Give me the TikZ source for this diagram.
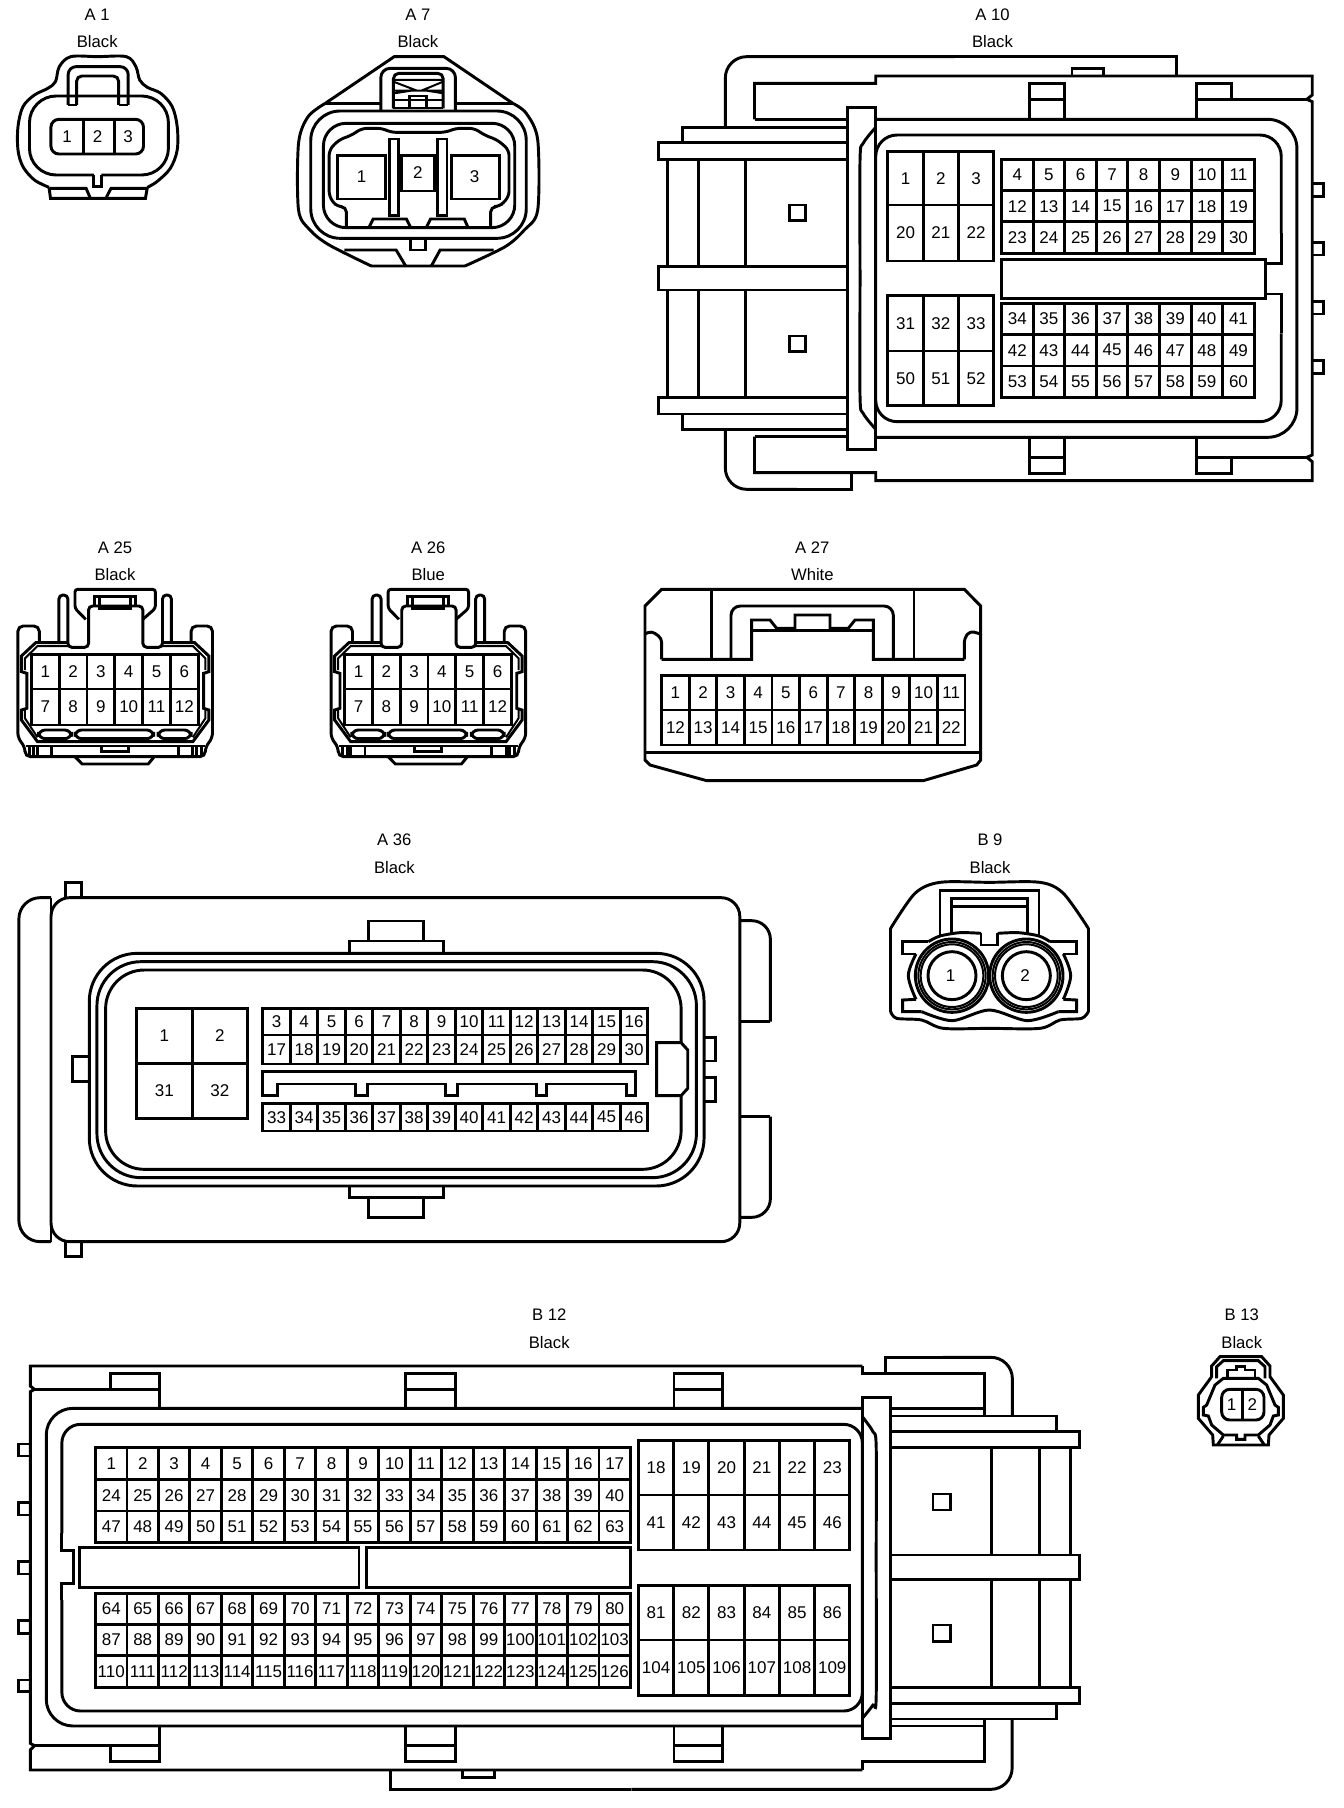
\documentclass[tikz,border=0pt]{standalone}
\usepackage{fontspec}
\setmainfont{Liberation Sans}
\tikzset{
  ln/.style={line width=2.2pt,line join=miter,line cap=butt},
  thinln/.style={line width=1.5pt},
  zoomed/.style n args={4}{shift={(#1,#2)},xscale=1/#3,yscale=1/#4},
  pinlabel/.style={inner sep=0pt,font=\fontsize{12.75}{15}\selectfont},
  title/.style={inner sep=0pt,font=\fontsize{12.5}{15}\selectfont}
}
\newcommand\pinrow[6]{%
  \draw[ln] (#1,#3) rectangle (#2,#4);
  \pgfmathsetmacro\cellw{(#2-#1)/#5}
  \foreach \k in {1,...,#5}{%
    \pgfmathsetmacro\pxa{#1+(\k-1)*\cellw}
    \pgfmathsetmacro\pxm{#1+(\k-.5)*\cellw}
    \pgfmathsetmacro\pym{(#3+#4)/2}
    \pgfmathtruncatemacro\pnum{#6+\k-1}
    \ifnum\k>1 \draw[ln] (\pxa,#3) -- (\pxa,#4);\fi
    \node[pinlabel] (\cn-\pnum) at (\pxm,\pym) {\pnum};
  }%
}
\newcommand\twelvepin[4]{%
\def\cn{#2}
\begin{scope}[zoomed={#1}{530}{2.8}{3},ln]
  \node[title] (\cn-t) at (322,52) {#3};
  \node[title] (\cn-c) at (322,135) {#4};
  \draw[rounded corners=4pt] (110,340) -- (110,288) -- (50,288) -- (50,625) -- (70,650) -- (70,680) -- (575,680) -- (575,650) -- (595,625) -- (595,288) -- (535,288) -- (535,340);
  \draw (190,338) -- (100,338) -- (60,378) -- (60,425) -- (75,430) -- (75,535) -- (60,540) -- (60,570) -- (105,635) -- (540,635) -- (585,570) -- (585,540) -- (570,535) -- (570,430) -- (585,425) -- (585,378) -- (545,338) -- (455,338);
  \draw[thinln] (190,348) -- (105,348) -- (70,385) -- (70,420);
  \draw[thinln] (455,348) -- (540,348) -- (575,385) -- (575,420);
  \draw[thinln] (70,540) -- (70,565) -- (105,622);
  \draw[thinln] (575,540) -- (575,565) -- (540,622);
  \draw[rounded corners=3pt] (165,340) -- (165,195) -- (190,195) -- (190,352) -- (248,352) -- (248,228) -- (400,228) -- (400,352) -- (455,352) -- (455,195) -- (480,195) -- (480,340);
  \draw[rounded corners=2pt] (240,268) -- (210,235) -- (210,178) -- (435,178) -- (435,235) -- (400,268);
  \draw (265,228) -- (265,200) -- (380,200) -- (380,228);
  \draw (278,205) -- (278,235) -- (365,235) -- (365,205);
  \pinrow{88}{555}{373}{477}{6}{1}
  \pinrow{88}{555}{477}{585}{6}{7}
  \draw[rounded corners=5pt] (108,600) rectangle (200,626);
  \draw[rounded corners=5pt] (210,600) rectangle (430,626);
  \draw[rounded corners=5pt] (443,600) rectangle (535,626);
  \draw (72,648) -- (573,648);
  \draw (82,650) -- (82,680) (95,650) -- (95,680) (105,652) -- (105,680) (145,652) -- (145,680);
  \draw (563,650) -- (563,680) (550,650) -- (550,680) (540,652) -- (540,680) (500,652) -- (500,680);
  \draw (283,650) -- (283,665) -- (360,665) -- (360,650);
  \draw (210,680) -- (230,702) -- (415,702) -- (432,680);
\end{scope}}
\begin{document}
\begin{tikzpicture}[x=.75pt,y=-.75pt]
\useasboundingbox (0,0) rectangle (1344,1808);
\fill[white] (0,0) rectangle (1344,1808);

% ---------- A1 and A7
\begin{scope}[zoomed={0}{0}{2.613}{3},ln]
  \def\cn{A1}
  \node[title] (A1-t) at (254,44) {A 1};
  \node[title] (A1-c) at (254,125) {Black};
  \draw plot[smooth,tension=.55] coordinates {(128,562) (90,540) (60,500) (47,450) (47,380) (60,320) (90,285) (125,265) (145,245) (155,200) (185,170) (255,170) (330,170) (355,200) (365,240) (385,262) (420,280) (450,320) (463,380) (463,450) (445,505) (410,545) (385,562)};
  \draw (128,562) -- (132,595) -- (380,595) -- (385,562);
  \draw[rounded corners=20pt] (245,525) -- (77,525) -- (77,288) -- (440,288) -- (440,525) -- (265,525);
  \draw (245,525) -- (245,560) -- (265,560) -- (265,525);
  \draw (130,565) -- (225,565) -- (235,592) (385,565) -- (290,565) -- (278,592);
  \draw[rounded corners=6pt] (178,315) -- (178,200) -- (335,200) -- (335,315);
  \draw (178,315) -- (200,315) (335,315) -- (310,315);
  \draw[rounded corners=4pt] (200,315) -- (200,228) -- (310,228) -- (310,315);
  \draw[rounded corners=6pt] (133,358) rectangle (375,462);
  \draw (217,358) -- (217,462) (298,358) -- (298,462);
  \node[pinlabel] (A1-1) at (175,410) {1};
  \node[pinlabel] (A1-2) at (255,410) {2};
  \node[pinlabel] (A1-3) at (335,410) {3};

  \node[title] (A7-t) at (1092,44) {A 7};
  \node[title] (A7-c) at (1092,125) {Black};
  \draw plot[smooth,tension=.5] coordinates {(1340,310) (1375,340) (1405,420) (1405,630) (1370,690) (1320,740) (1215,798)};
  \draw plot[smooth,tension=.5] coordinates {(850,310) (805,350) (780,430) (780,630) (810,690) (860,735) (970,798)};
  \draw (850,310) -- (1030,170) -- (1160,170) -- (1340,310) (970,798) -- (1215,798);
  \draw (850,310) -- (995,310) (1190,310) -- (1340,310);
  \draw[rounded corners=7pt] (995,330) -- (995,205) -- (1190,205) -- (1190,330);
  \draw[rounded corners=4pt] (1028,325) -- (1028,220) -- (1158,220) -- (1158,325);
  \draw[thinln] (1028,240) -- (1158,240) (1028,245) -- (1085,270) -- (1030,280) (1158,245) -- (1105,270) -- (1158,280) (1030,272) -- (1158,272);
  \draw (1030,300) -- (1158,300) (1070,325) -- (1070,288) -- (1115,288) -- (1115,325) (1028,324) -- (1158,324);
  \draw[rounded corners=22pt] (812,333) rectangle (1375,715);
  \draw[rounded corners=17pt] (845,370) rectangle (1345,683);
  \draw[rounded corners=4pt] (905,683) -- (905,620) -- (880,620) -- (860,590) -- (860,450) -- (885,420) -- (920,405) -- (945,385) -- (1000,385) -- (1020,397) -- (1165,397) -- (1190,385) -- (1240,385) -- (1265,405) -- (1300,420) -- (1330,450) -- (1330,590) -- (1305,620) -- (1282,620) -- (1282,683);
  \draw (882,467) rectangle (1008,597);
  \draw (1050,467) rectangle (1135,573);
  \draw (1180,467) rectangle (1305,597);
  \draw (1017,417) rectangle (1042,647);
  \draw (1142,417) rectangle (1168,647);
  \draw (965,680) -- (975,657) -- (1062,657) -- (1072,680);
  \draw (1115,680) -- (1125,657) -- (1213,657) -- (1222,680);
  \draw (1072,715) -- (1072,750) -- (1112,750) -- (1112,715);
  \draw (900,750) -- (1035,750) -- (1060,798) (1290,750) -- (1150,750) -- (1127,798);
  \node[pinlabel] (A7-1) at (945,530) {1};
  \node[pinlabel] (A7-2) at (1092,518) {2};
  \node[pinlabel] (A7-3) at (1240,530) {3};
\end{scope}

% ---------- A10
\begin{scope}[zoomed={640}{0}{2.227}{3},ln]
  \def\cn{A10}
  \node[title] (A10-t) at (785,44) {A 10};
  \node[title] (A10-c) at (785,125) {Black};
  \draw[rounded corners=16pt] (190,380) -- (190,170) -- (700,170);
  \draw (700,170) -- (1195,170) -- (1195,228);
  \draw (255,358) -- (255,250) -- (525,250) -- (525,228) -- (1497,228) -- (1497,285) -- (1485,298) -- (1497,305) -- (1497,1365) -- (1485,1372) -- (1497,1385) -- (1497,1442) -- (525,1442) -- (525,1418) -- (255,1418) -- (255,1310);
  \draw[rounded corners=16pt] (190,1292) -- (190,1468) -- (350,1468);
  \draw (350,1468) -- (472,1468) -- (472,1418);
  \draw (1240,298) -- (1485,298) (1240,1372) -- (1485,1372);
  \draw (868,355) -- (868,250) -- (945,250) -- (945,355) (868,298) -- (945,298);
  \draw (1240,355) -- (1240,250) -- (1318,250) -- (1318,298);
  \draw (868,1312) -- (868,1420) -- (945,1420) -- (945,1312) (868,1372) -- (945,1372);
  \draw (1240,1312) -- (1240,1420) -- (1318,1420) -- (1318,1372);
  \draw (962,228) -- (962,205) -- (1033,205) -- (1033,228);
  \draw (462,322) rectangle (525,1348);
  \draw[rounded corners=22pt] (525,358) -- (1463,358) -- (1463,1312) -- (525,1312);
  \draw plot[smooth,tension=.5] coordinates {(525,382) (497,430) (490,480) (490,835) (490,1190) (497,1240) (525,1288)};
  \draw (1395,790) -- (1428,790) -- (1428,700);
  \draw[rounded corners=16pt] (1428,700) -- (1428,405) -- (525,405) -- (525,1265) -- (1428,1265) -- (1428,1000);
  \draw (1428,1000) -- (1428,882) -- (1395,882);
  \draw (805,778) rectangle (1393,895);
  \pinrow{552}{788}{455}{615}{3}{1}
  \pinrow{552}{788}{615}{783}{3}{20}
  \pinrow{552}{788}{887}{1053}{3}{31}
  \pinrow{552}{788}{1053}{1217}{3}{50}
  \pinrow{805}{1368}{478}{572}{8}{4}
  \pinrow{805}{1368}{572}{665}{8}{12}
  \pinrow{805}{1368}{665}{760}{8}{23}
  \pinrow{805}{1368}{910}{1003}{8}{34}
  \pinrow{805}{1368}{1003}{1098}{8}{42}
  \pinrow{805}{1368}{1098}{1193}{8}{53}
  \foreach \a/\b in {550/590,728/765,905/942,1082/1120}
    \draw (1497,\a) -- (1522,\a) -- (1522,\b) -- (1497,\b);
  \draw (462,382) -- (95,382) -- (95,428);
  \draw (462,428) -- (42,428) -- (42,478) -- (462,478);
  \draw (62,478) -- (62,800) (130,478) -- (130,800) (235,478) -- (235,800);
  \draw (462,800) -- (42,800) -- (42,870) -- (462,870);
  \draw (62,870) -- (62,1193) (130,870) -- (130,1193) (235,870) -- (235,1193);
  \draw (462,1193) -- (42,1193) -- (42,1242) -- (462,1242);
  \draw (95,1242) -- (95,1288) -- (462,1288);
  \draw (255,358) -- (462,358) (255,1310) -- (462,1310);
  \draw (332,615) rectangle (368,662);
  \draw (332,1008) rectangle (368,1055);
\end{scope}

% ---------- A25, A26
\twelvepin{0}{A25}{A 25}{Black}
\twelvepin{313.2}{A26}{A 26}{Blue}

% ---------- A27
\begin{scope}[zoomed={630}{530}{3}{3},ln]
  \def\cn{A27}
  \node[title] (A27-t) at (547,52) {A 27};
  \node[title] (A27-c) at (547,135) {White};
  \draw (45,228) -- (95,178) -- (1003,178) -- (1052,228) -- (1052,690) -- (1040,705) -- (880,752) -- (230,752) -- (60,705) -- (45,690) -- cycle;
  \draw (45,668) -- (1052,668);
  \draw[rounded corners=3pt] (45,312) -- (65,303) -- (95,325) -- (95,388);
  \draw[rounded corners=3pt] (1052,312) -- (1020,303) -- (1003,325) -- (1003,388);
  \draw (95,388) -- (365,388) -- (365,270) -- (420,270) -- (440,295) -- (495,295) -- (495,255) -- (600,255) -- (600,295) -- (655,295) -- (675,270) -- (730,270) -- (730,388) -- (1003,388);
  \draw (365,302) -- (730,302);
  \draw (245,178) -- (245,388);
  \draw (852,178) -- (852,388);
  \draw[rounded corners=7pt] (303,388) -- (303,228) -- (790,228) -- (790,388);
  \pinrow{95}{1005}{437}{540}{11}{1}
  \pinrow{95}{1005}{540}{645}{11}{12}
\end{scope}

% ---------- A36
\begin{scope}[zoomed={0}{830}{1.96}{3},ln]
  \def\cn{A36}
  \node[title] (A36-t) at (773,30) {A 36};
  \node[title] (A36-c) at (773,112) {Black};
  \draw[rounded corners=16pt] (100,203) -- (37,203) -- (37,1235) -- (100,1235);
  \draw (100,203) -- (100,1235);
  \draw[rounded corners=14pt] (100,203) rectangle (1450,1235);
  \draw (128,203) -- (128,158) -- (160,158) -- (160,203);
  \draw (128,1235) -- (128,1280) -- (160,1280) -- (160,1235);
  \draw (173,680) -- (143,680) -- (143,755) -- (173,755);
  \draw (685,368) -- (685,333) -- (870,333) -- (870,368) (723,333) -- (723,273) -- (830,273) -- (830,333);
  \draw (685,1068) -- (685,1103) -- (870,1103) -- (870,1068) (723,1103) -- (723,1163) -- (830,1163) -- (830,1103);
  \draw[rounded corners=14pt] (1450,272) -- (1510,272) -- (1510,575);
  \draw (1510,575) -- (1450,575);
  \draw[rounded corners=14pt] (1510,860) -- (1510,1162) -- (1450,1162);
  \draw (1450,860) -- (1510,860);
  \draw[rounded corners=36pt] (175,370) rectangle (1380,1068);
  \draw[rounded corners=33pt] (190,395) rectangle (1365,1043);
  \draw[rounded corners=29pt] (207,420) rectangle (1335,1018);
  \pinrow{268}{485}{535}{700}{2}{1}
  \pinrow{268}{485}{700}{865}{2}{31}
  \pinrow{515}{1270}{535}{615}{14}{3}
  \pinrow{515}{1270}{615}{702}{14}{17}
  \pinrow{515}{1270}{820}{903}{14}{33}
  \draw (515,797) -- (515,725) -- (1245,725) -- (1245,797) -- (1228,797) -- (1228,762) -- (1072,762) -- (1072,797) -- (1052,797) -- (1052,762) -- (897,762) -- (897,797) -- (873,797) -- (873,762) -- (720,762) -- (720,797) -- (697,797) -- (697,762) -- (543,762) -- (543,797) -- cycle;
  \draw[fill=white] (1335,638) -- (1287,638) -- (1287,797) -- (1335,797) -- (1348,775) -- (1348,660) -- cycle;
  \draw (1380,622) -- (1403,622) -- (1403,693) -- (1380,693);
  \draw (1380,742) -- (1403,742) -- (1403,815) -- (1380,815);
\end{scope}

% ---------- B9
\begin{scope}[zoomed={880}{830}{3}{3},ln]
  \def\cn{B9}
  \node[title] (B9-t) at (330,30) {B 9};
  \node[title] (B9-c) at (330,112) {Black};
  \draw plot[smooth,tension=.5] coordinates {(32,295) (105,190) (180,157) (328,157) (480,157) (550,190) (625,295)};
  \draw (32,295) -- (32,545) (625,295) -- (625,545);
  \draw plot[smooth,tension=.5] coordinates {(32,545) (50,565) (125,570) (190,595) (328,595) (480,595) (540,570) (605,565) (625,545)};
  \draw (180,318) -- (180,182) -- (477,182) -- (477,318);
  \draw (215,310) -- (215,205) -- (442,205) -- (442,310) (215,230) -- (442,230);
  \draw plot[smooth,tension=.5] coordinates {(145,335) (180,318) (240,308) (303,310)};
  \draw plot[smooth,tension=.5] coordinates {(510,335) (477,318) (415,308) (353,310)};
  \draw (303,310) -- (303,345) -- (353,345) -- (353,310);
  \draw (145,335) -- (68,335) -- (68,372) -- (108,372);
  \draw (510,335) -- (590,335) -- (590,372) -- (550,372);
  \draw plot[smooth,tension=.6] coordinates {(108,372) (85,437) (108,508)};
  \draw plot[smooth,tension=.6] coordinates {(550,372) (572,437) (550,508)};
  \draw (108,508) -- (68,510) -- (68,545) -- (125,545);
  \draw (550,508) -- (590,510) -- (590,545) -- (535,545);
  \draw plot[smooth,tension=.5] coordinates {(125,545) (217,572) (328,540) (442,572) (535,545)};
  \foreach \cx/\n in {216/1,439/2}{
    \fill[white] (\cx,437) circle[radius=112];
    \draw (\cx,437) circle[radius=110];
    \draw[thinln] (\cx,437) circle[radius=101];
    \draw[thinln] (\cx,437) circle[radius=94];
    \draw (\cx,437) circle[radius=72];
    \node[pinlabel] (B9-\n) at (\cx-4,437) {\n};
  }
\end{scope}

% ---------- B12 left part
\begin{scope}[zoomed={0}{1300}{2.376}{3},ln]
  \def\cn{B12}
  \node[title] (B12-t) at (1305,45) {B 12};
  \node[title] (B12-c) at (1305,128) {Black};
  \draw (2049,198) -- (72,198) -- (72,258) -- (82,268) -- (72,275) -- (72,1330) -- (82,1337) -- (72,1350) -- (72,1410) -- (2049,1410);
  \draw[rounded corners=20pt] (2049,325) -- (110,325) -- (110,1278) -- (2049,1278);
  \draw[rounded corners=14pt] (2049,800) -- (2049,373) -- (147,373) -- (147,700);
  \draw (147,700) -- (147,752) -- (175,752) -- (175,850) -- (147,850) -- (147,900);
  \draw[rounded corners=14pt] (147,900) -- (147,1233) -- (2049,1233) -- (2049,800);
  \draw (927,1410) -- (927,1468) -- (1500,1468);
  \draw[rounded corners=16pt] (1500,1468) -- (2405,1468) -- (2405,1260);
  \draw (1100,1410) -- (1100,1433) -- (1175,1433) -- (1175,1410);
  \draw (262,268) -- (262,220) -- (380,220) -- (380,325) (82,268) -- (380,268);
  \draw (963,325) -- (963,220) -- (1083,220) -- (1083,325) (963,268) -- (1083,268);
  \draw (380,1278) -- (380,1385) -- (262,1385) -- (262,1337) (82,1337) -- (380,1337);
  \draw (963,1278) -- (963,1385) -- (1083,1385) -- (1083,1278) (963,1337) -- (1083,1337);
  \foreach \a/\b in {432/468,608/645,785/822,962/1000,1140/1175}
    \draw (72,\a) -- (45,\a) -- (45,\b) -- (72,\b);
  \pinrow{227}{1498}{443}{538}{17}{1}
  \pinrow{227}{1498}{538}{633}{17}{24}
  \pinrow{227}{1498}{633}{727}{17}{47}
  \pinrow{227}{1498}{880}{973}{17}{64}
  \pinrow{227}{1498}{973}{1067}{17}{87}
  \pinrow{227}{1498}{1067}{1162}{17}{110}
  \draw (188,742) rectangle (853,862);
  \draw (870,742) rectangle (1498,862);
\end{scope}

% ---------- B12 right part
\begin{scope}[zoomed={620}{1300}{2.166}{3},ln]
  \def\cn{B12}
  \draw (525,198) -- (525,220) -- (790,220) -- (790,345);
  \draw (525,1410) -- (525,1385) -- (790,1385) -- (790,1260);
  \draw (575,220) -- (575,172) -- (700,172);
  \draw[rounded corners=16pt] (700,172) -- (850,172) -- (850,350);
  \draw (117,325) -- (117,220) -- (222,220) -- (222,325) (117,268) -- (222,268);
  \draw (117,1278) -- (117,1385) -- (222,1385) -- (222,1278) (117,1337) -- (222,1337);
  \draw[fill=white] (525,292) rectangle (585,1315);
  \draw plot[smooth,tension=.5] coordinates {(525,350) (548,395) (555,440) (555,770) (555,1190) (548,1215) (525,1255)};
  \pinrow{40}{498}{422}{585}{6}{18}
  \pinrow{40}{498}{585}{750}{6}{41}
  \pinrow{40}{498}{857}{1020}{6}{81}
  \pinrow{40}{498}{1020}{1187}{6}{104}
  \draw (585,325) -- (790,325) (585,1278) -- (790,1278);
  \draw (585,348) -- (945,348) -- (945,395);
  \draw (585,395) -- (995,395) -- (995,442) -- (585,442);
  \draw (975,442) -- (975,765) (805,442) -- (805,765) (908,442) -- (908,765);
  \draw (585,765) -- (995,765) -- (995,838) -- (585,838);
  \draw (975,838) -- (975,1162) (805,838) -- (805,1162) (908,838) -- (908,1162);
  \draw (585,1162) -- (995,1162) -- (995,1210) -- (585,1210);
  \draw (945,1210) -- (945,1257) -- (585,1257);
  \draw (678,582) rectangle (715,630);
  \draw (678,975) rectangle (715,1025);
  \node[title] (B13-t) at (1347,45) {B 13};
  \node[title] (B13-c) at (1347,128) {Black};
\end{scope}

% ---------- B13
\begin{scope}[zoomed={1190}{1350}{3}{3},ln]
  \def\cn{B13}
  \draw (70,285) -- (68,255) -- (25,205) -- (25,135) -- (65,80) -- (65,48) -- (90,20) -- (215,20) -- (240,48) -- (240,80) -- (280,135) -- (280,205) -- (237,255) -- (235,285) -- cycle;
  \draw (80,85) -- (80,50) -- (100,32) -- (205,32) -- (225,50) -- (225,85);
  \draw (112,85) -- (112,60) -- (140,60) -- (140,50) -- (165,50) -- (165,60) -- (195,60) -- (195,85) -- cycle;
  \draw (50,165) -- (75,105) -- (100,85) -- (205,85) -- (230,105) -- (255,165) -- (265,172) -- (265,195) -- (250,198) -- (240,225) -- (205,255) -- (165,255) -- (165,268) -- (140,268) -- (140,255) -- (100,255) -- (65,225) -- (55,198) -- (40,195) -- (40,172) -- cycle;
  \draw[rounded corners=6pt] (95,118) rectangle (222,210);
  \draw (157,118) -- (157,210);
  \draw (100,258) -- (82,285) (205,258) -- (223,285);
  \node[pinlabel] (B13-1) at (125,163) {1};
  \node[pinlabel] (B13-2) at (187,163) {2};
\end{scope}
\end{tikzpicture}
\end{document}
